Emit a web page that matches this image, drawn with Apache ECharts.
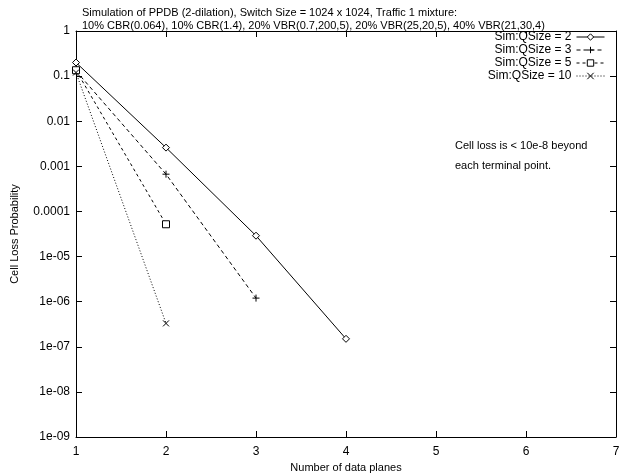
<!DOCTYPE html>
<html>
<head>
<meta charset="utf-8">
<script src="https://cdn.jsdelivr.net/npm/echarts@6/dist/echarts.min.js"></script>
<style>html,body{margin:0;padding:0;background:#fff}#c{width:619px;height:474px}</style>
</head>
<body>
<div id="c"></div>
<script>
var planes = [1, 2, 3, 4];
var q2 = [0.2, 0.0026, 0.000029, 0.00000015];
var q3 = [0.13, 0.00067, 0.0000012];
var q5 = [0.135, 0.000052];
var q10 = [0.12, 0.00000033];
var seriesNames = ['Sim:QSize = 2', 'Sim:QSize = 3', 'Sim:QSize = 5', 'Sim:QSize = 10'];
var yTickLabels = ['1e-09','1e-08','1e-07','1e-06','1e-05','0.0001','0.001','0.01','0.1','1'];
var xTickLabels = ['1','2','3','4','5','6','7'];
var titleLines = ['Simulation of PPDB (2-dilation), Switch Size = 1024 x 1024, Traffic 1 mixture:',
  '10% CBR(0.064), 10% CBR(1.4), 20% VBR(0.7,200,5), 20% VBR(25,20,5), 40% VBR(21,30,4)'];
var noteLines = ['Cell loss is < 10e-8 beyond', 'each terminal point.'];

function pts(vals){ return vals.map(function(v,i){ return [planes[i], v]; }); }
var font = 'Liberation Sans, Arial, sans-serif';
var plusPath = 'path://M0,5L10,5M5,0L5,10';
var crossPath = 'path://M0,0L10,10M10,0L0,10';

function mk(name, vals, type, sym, size){
  return {
    name: name, type: 'line', data: pts(vals), symbol: sym, symbolSize: size,
    showAllSymbol: true,
    lineStyle: {color: '#000', width: 1, type: type},
    itemStyle: {color: '#fff', borderColor: '#000', borderWidth: 1},
    emphasis: {disabled: true}, animation: false, z: 3
  };
}

var chart = echarts.init(document.getElementById('c'), null, {renderer: 'canvas'});
var axisCommon = {
  axisLine: {show: true, lineStyle: {color: '#000', width: 1}},
  splitLine: {show: false}
};
chart.setOption({
  animation: false,
  backgroundColor: '#fff',
  textStyle: {fontFamily: font},
  title: {
    text: titleLines.join('\n'), left: 77, top: 1,
    textStyle: {fontSize: 11, fontWeight: 'normal', color: '#000', lineHeight: 13, fontFamily: font}
  },
  grid: {left: 76, right: 3, top: 31, bottom: 37, containLabel: false, outerBoundsMode: 'none'},
  legend: {
    orient: 'vertical', right: 9, top: 26, align: 'right',
    itemWidth: 28, itemHeight: 8, itemGap: 1,
    lineStyle: {width: 1},
    itemStyle: {borderWidth: 1},
    textStyle: {fontSize: 12, lineHeight: 12, color: '#000', fontFamily: font},
    data: seriesNames, selectedMode: false
  },
  xAxis: [{
    type: 'value', min: 1, max: 7, interval: 1,
    name: 'Number of data planes', nameLocation: 'middle', nameGap: 22,
    nameTextStyle: {fontSize: 11, color: '#000', fontFamily: font},
    axisTick: {show: true, inside: true, length: 6, lineStyle: {color: '#000'}},
    axisLabel: {fontSize: 12, color: '#000', margin: 9, fontFamily: font,
      formatter: function(v){ return xTickLabels[Math.round(v) - 1]; }},
    ...axisCommon
  }, {
    type: 'value', min: 1, max: 7, interval: 1, position: 'top',
    axisTick: {show: true, inside: true, length: 6, lineStyle: {color: '#000'}},
    axisLabel: {show: false}, ...axisCommon
  }],
  yAxis: [{
    type: 'log', logBase: 10, min: 1e-9, max: 1,
    name: 'Cell Loss Probability', nameLocation: 'middle', nameGap: 56, nameRotate: 90,
    nameTextStyle: {fontSize: 11, color: '#000', fontFamily: font},
    axisTick: {show: true, inside: true, length: 6, lineStyle: {color: '#000'}},
    axisLabel: {fontSize: 12, color: '#000', margin: 6, fontFamily: font,
      formatter: function(v){ var e = Math.round(Math.log10(v)); return yTickLabels[e + 9]; }},
    minorTick: {show: false},
    ...axisCommon
  }, {
    type: 'log', logBase: 10, min: 1e-9, max: 1, position: 'right',
    axisTick: {show: true, inside: true, length: 6, lineStyle: {color: '#000'}},
    axisLabel: {show: false}, ...axisCommon
  }],
  graphic: [{
    type: 'text', left: 455, top: 136,
    style: {text: noteLines.join('\n'), lineHeight: 20, fill: '#000', font: '11px ' + font}
  }],
  series: [
    mk(seriesNames[0], q2, 'solid', 'diamond', 7),
    mk(seriesNames[1], q3, [4, 3], plusPath, 7),
    mk(seriesNames[2], q5, [3, 3], 'rect', 7),
    mk(seriesNames[3], q10, [1, 2], crossPath, 6)
  ]
});
</script>
</body>
</html>
